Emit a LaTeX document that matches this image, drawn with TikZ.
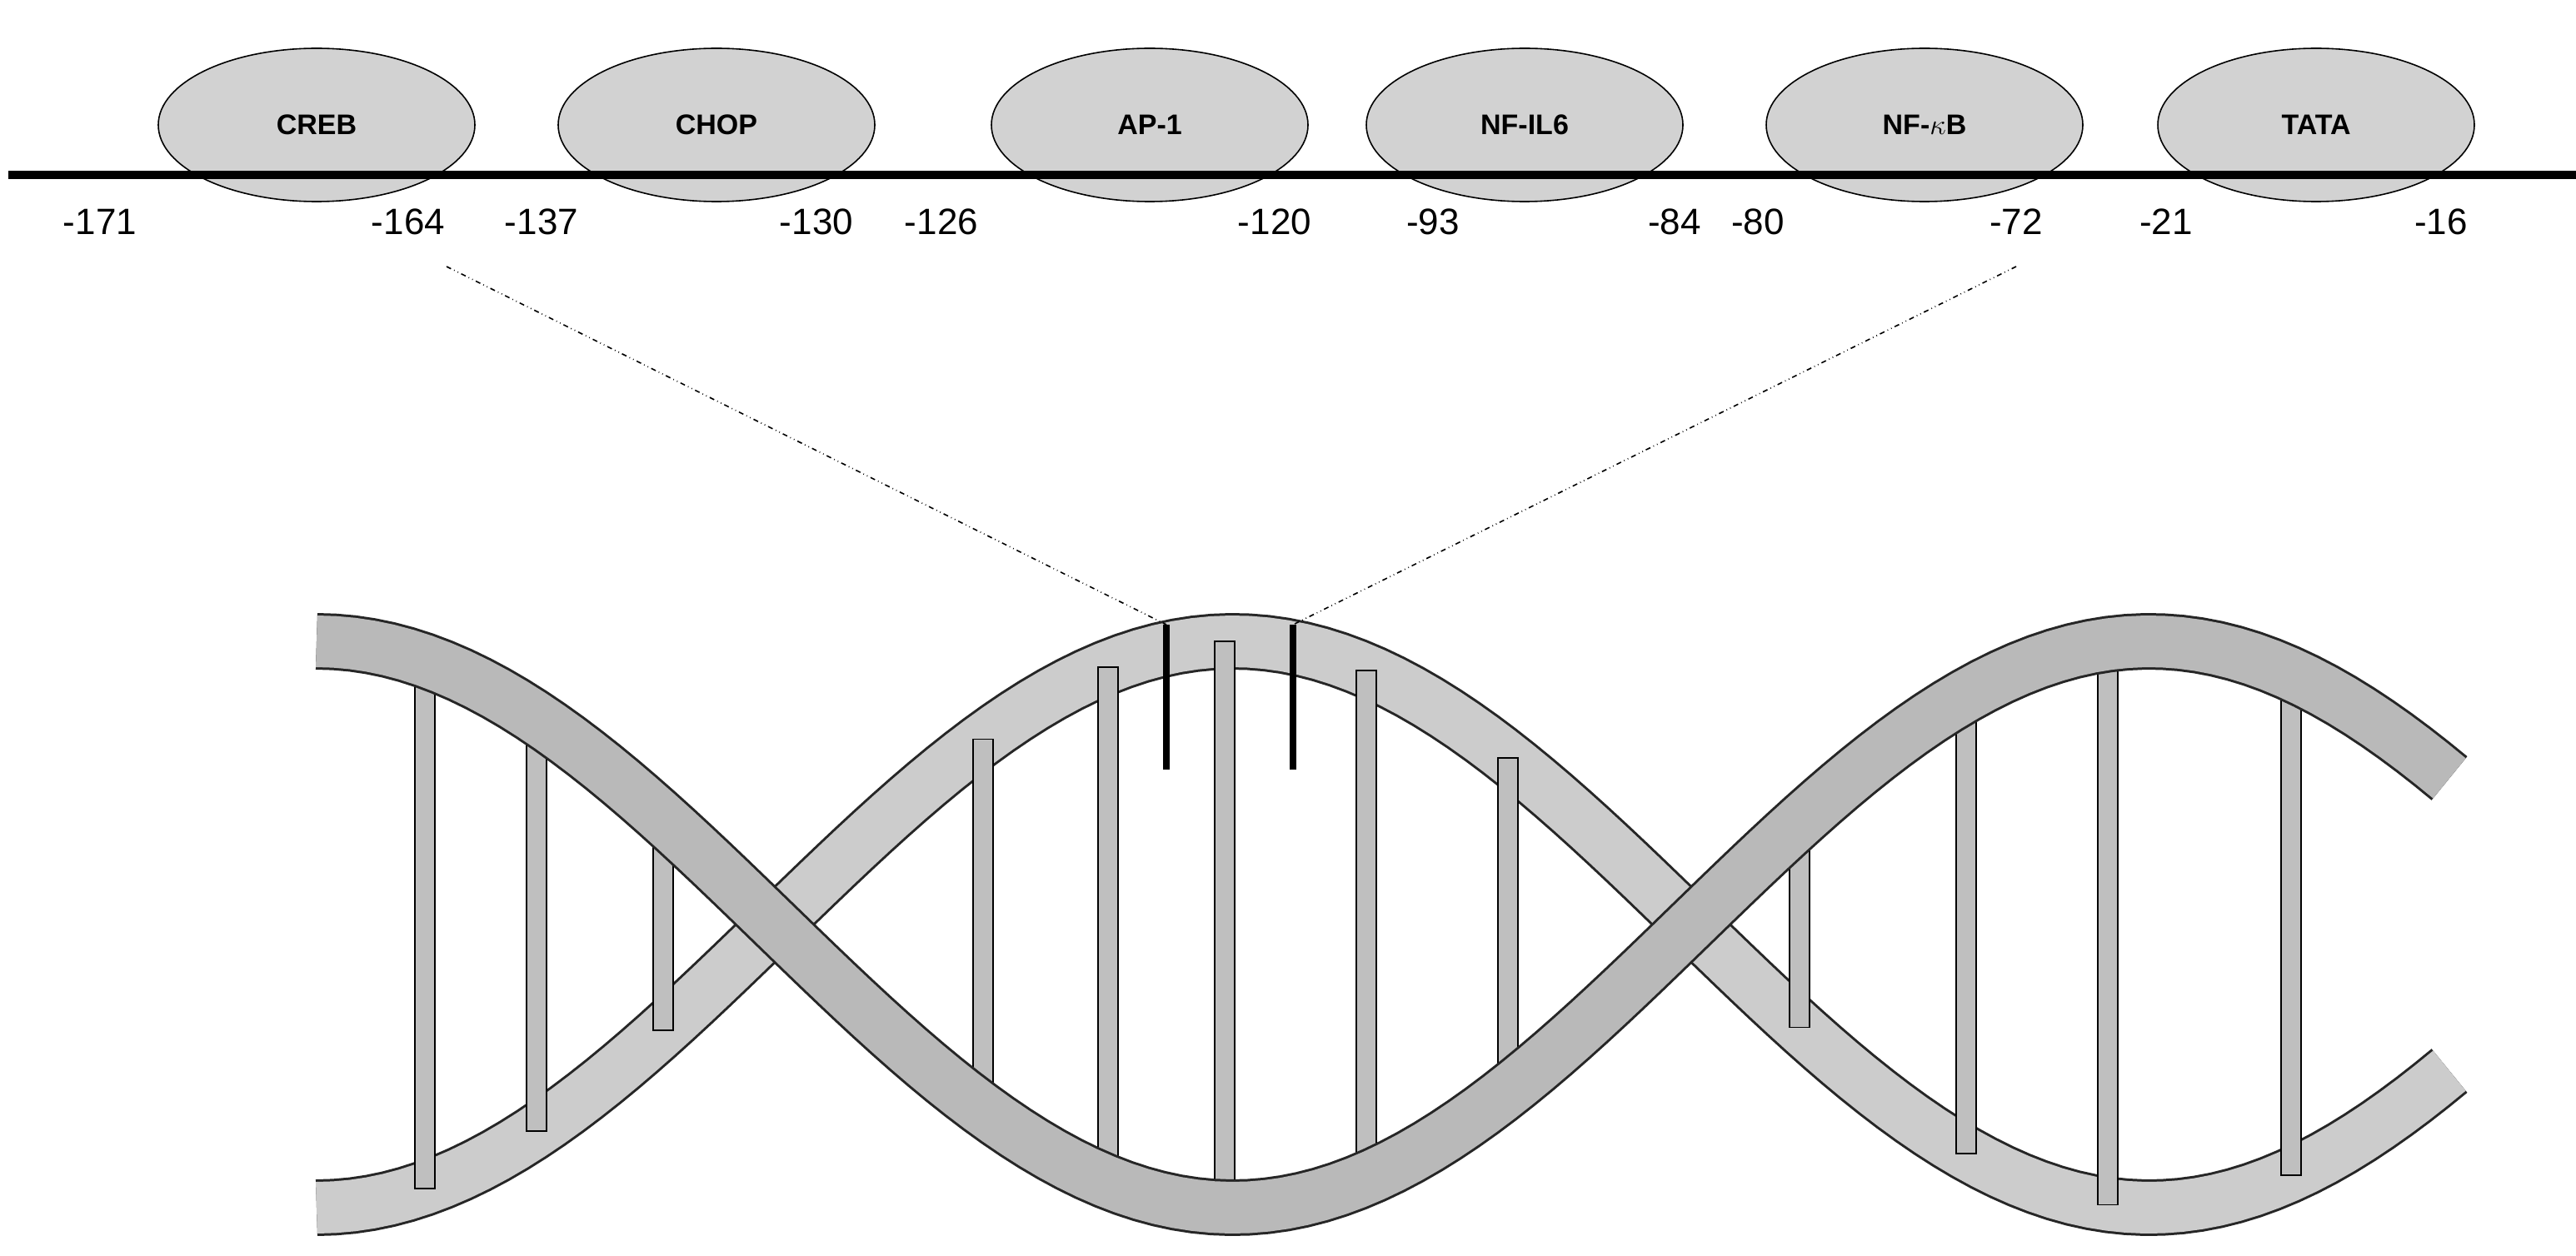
\documentclass[tikz,border=0pt]{standalone}
\usepackage{fontspec}
\setmainfont{Liberation Sans}
\usetikzlibrary{shapes.geometric}
\tikzset{
  site/.style={ellipse,draw,thick,fill=gray!35,minimum width=190pt,minimum height=92pt,font=\bfseries\fontsize{17}{20}\selectfont},
  poslabel/.style={font=\fontsize{22}{26}\selectfont},
  strandback/.style={line width=34pt,black!85},
  strandfront/.style={line width=31pt,gray!55},
}
\begin{document}
\begin{tikzpicture}[x=1pt,y=1pt,yscale=-1,xscale=1,
  declare function={ya(\x)=555-170*cos(0.327273*(\x-190)); yb(\x)=555+170*cos(0.327273*(\x-190));}]
\useasboundingbox (0,0) rectangle (1546,754);
% binding sites
\node[site] (creb) at (190,75) {CREB};
\node[site] (chop) at (430,75) {CHOP};
\node[site] (ap1) at (690,75) {AP-1};
\node[site] (nfil) at (915,75) {NF-IL6};
\node[site] (nfkb) at (1155,75) {NF-$\kappa$B};
\node[site] (tata) at (1390,75) {TATA};
\draw[line width=5pt] (5,105) -- (1555,105);
% positions
\node[poslabel] (p171) at (60,133) {-171};
\node[poslabel] (p164) at (245,133) {-164};
\node[poslabel] (p137) at (325,133) {-137};
\node[poslabel] (p130) at (490,133) {-130};
\node[poslabel] (p126) at (565,133) {-126};
\node[poslabel] (p120) at (765,133) {-120};
\node[poslabel] (p93) at (860,133) {-93};
\node[poslabel] (p84) at (1005,133) {-84};
\node[poslabel] (p80) at (1055,133) {-80};
\node[poslabel] (p72) at (1210,133) {-72};
\node[poslabel] (p21) at (1300,133) {-21};
\node[poslabel] (p16) at (1465,133) {-16};
% helix
\draw[strandback] plot[domain=190:1470,samples=120] (\x,{yb(\x)});
\draw[strandfront,gray!40] plot[domain=190:1470,samples=120] (\x,{yb(\x)});
\foreach \r in {255,322,398,590,665,735,820,905,1010,1080,1180,1265,1375}
  \draw[fill=gray!50,thick] (\r-6,{min(ya(\r),yb(\r))}) rectangle (\r+6,{max(ya(\r),yb(\r))});
\draw[strandback] plot[domain=190:1470,samples=120] (\x,{ya(\x)});
\draw[strandfront] plot[domain=190:1470,samples=120] (\x,{ya(\x)});
% cut marks
\coordinate (c1) at (700,375);
\coordinate (c2) at (776,375);
\draw[line width=4pt] (c1) -- (700,462);
\draw[line width=4pt] (c2) -- (776,462);
\draw[dash dot dot,thick] (268,160) -- (c1);
\draw[dash dot dot,thick] (1210,160) -- (c2);
\end{tikzpicture}
\end{document}
